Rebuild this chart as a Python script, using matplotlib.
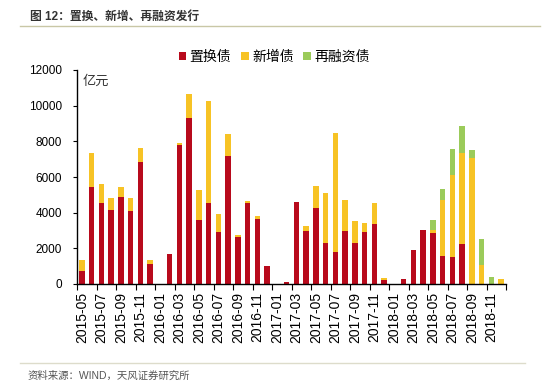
import matplotlib
matplotlib.use('Agg')
import matplotlib.pyplot as plt
import numpy as np

plt.rcParams['font.family'] = ['Liberation Sans', 'Noto Sans CJK SC', 'DejaVu Sans']

# monthly issuance, 亿元, 2015-05 .. 2018-12
months = ['2015-05', '2015-06', '2015-07', '2015-08', '2015-09', '2015-10', '2015-11', '2015-12',
          '2016-01', '2016-02', '2016-03', '2016-04', '2016-05', '2016-06', '2016-07', '2016-08',
          '2016-09', '2016-10', '2016-11', '2016-12', '2017-01', '2017-02', '2017-03', '2017-04',
          '2017-05', '2017-06', '2017-07', '2017-08', '2017-09', '2017-10', '2017-11', '2017-12',
          '2018-01', '2018-02', '2018-03', '2018-04', '2018-05', '2018-06', '2018-07', '2018-08',
          '2018-09', '2018-10', '2018-11', '2018-12']
replace = [750, 5420, 4560, 4150, 4900, 4090, 6860, 1100,
           0, 1680, 7780, 9310, 3570, 4520, 2900, 7180,
           2620, 4560, 3630, 1010, 0, 130, 4580, 2950,
           4240, 2320, 1800, 2990, 2320, 2900, 3350, 220,
           0, 280, 1900, 3010, 2860, 1570, 1530, 2220,
           0, 0, 0, 0]
new = [580, 1910, 1050, 650, 540, 710, 770, 250,
       0, 0, 130, 1360, 1700, 5760, 1040, 1230,
       150, 90, 200, 0, 0, 0, 0, 320,
       1260, 2780, 6690, 1700, 1230, 500, 1170, 90,
       0, 0, 0, 0, 150, 3140, 4580, 5110,
       7050, 1050, 0, 280]
refin = [0] * 36 + [560, 640, 1460, 1530, 450, 1490, 410, 0]

red = '#B80A1C'
yellow = '#F7C325'
green = '#9BCB5A'

fig = plt.figure(figsize=(5.5, 3.86), dpi=100)
ax = fig.add_axes([77 / 550, (386 - 284) / 386, (506 - 77) / 550, (284 - 70) / 386])

x = np.arange(len(months))
w = 0.55
r = np.array(replace)
n = np.array(new)
g = np.array(refin)
ax.bar(x, r, w, color=red, label='置换债')
ax.bar(x, n, w, bottom=r, color=yellow, label='新增债')
ax.bar(x, g, w, bottom=r + n, color=green, label='再融资债')

ax.set_xlim(-0.5, len(months) - 0.5)
ax.set_ylim(0, 12000)
ax.set_yticks(range(0, 12001, 2000))
ax.tick_params(axis='y', labelsize=8.5, length=3, width=0.8, pad=8)

ax.set_xticks(x[::2])
ax.set_xticklabels(months[::2], rotation=90, fontsize=10)
ax.set_xticks(np.arange(-0.5, len(months), 2), minor=True)
ax.tick_params(axis='x', which='major', length=0, pad=6)
ax.tick_params(axis='x', which='minor', length=4, width=0.8)

for s in ['top', 'right']:
    ax.spines[s].set_visible(False)
for s in ['left', 'bottom']:
    ax.spines[s].set_linewidth(1.0)

ax.text(0.013, 0.975, '亿元', transform=ax.transAxes, fontsize=9.5, color='#333333',
        va='top', ha='left')

ax.legend(loc='center', bbox_to_anchor=(0.46, 1 + 13 / 214), ncol=3, frameon=False,
          fontsize=10, handlelength=0.55, handleheight=0.55, handletextpad=0.25,
          columnspacing=0.7, borderaxespad=0)

# header / footer
fig.text(30 / 550, 1 - 17 / 386, '图 12：置换、新增、再融资发行', fontsize=8.5,
         color='#333333', fontweight='bold', va='center', ha='left')
fig.add_artist(plt.Line2D([20 / 550, 540 / 550], [1 - 26 / 386, 1 - 26 / 386],
                          color='#C9C7A6', linewidth=1.0))
fig.add_artist(plt.Line2D([20 / 550, 525 / 550], [1 - 363 / 386, 1 - 363 / 386],
                          color='#DDDCCB', linewidth=1.0))
fig.text(28 / 550, 1 - 376 / 386, '资料来源：WIND，天风证券研究所', fontsize=7.5,
         color='#555555', va='center', ha='left')

fig.savefig('out.png', dpi=100)
